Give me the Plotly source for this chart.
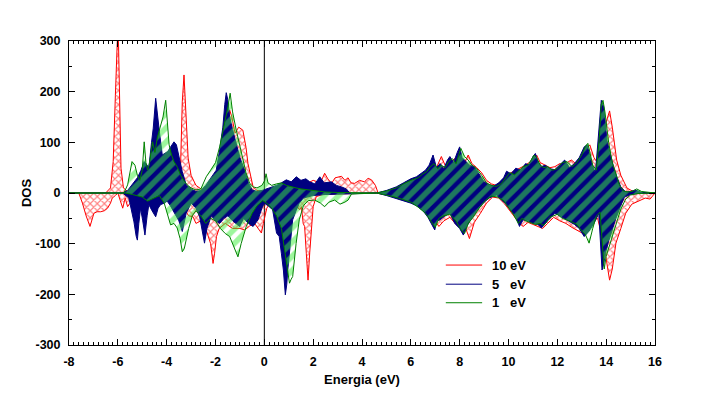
import plotly.graph_objects as go

# ---------------- data ----------------
# 10 eV (red), spin up / spin down
rx_up = [-8, -6.5, -6.3, -6.19, -6.1, -6.03, -6.0, -5.97, -5.93, -5.87,
         -5.77, -5.6, -5.0, -4.5, -4.0, -3.6, -3.5, -3.43, -3.36, -3.29,
         -3.22, -3.12, -3.0, -2.8, -2.5, -2.3, -2.1, -1.9, -1.7, -1.55,
         -1.42, -1.33, -1.2, -1.05, -0.88, -0.75, -0.67, -0.55, -0.46, -0.3,
         0.0, 0.3, 0.6, 1.0, 1.3, 1.6, 2.0, 2.3, 2.47, 2.6,
         2.75, 2.9, 3.16, 3.3, 3.43, 3.55, 3.7, 3.9, 4.1, 4.25,
         4.39, 4.55, 4.66, 5.0, 5.5, 6.0, 6.4, 6.7, 6.9, 7.05,
         7.25, 7.4, 7.6, 7.8, 8.0, 8.2, 8.35, 8.5, 8.7, 8.9,
         9.1, 9.3, 9.5, 9.7, 9.9, 10.1, 10.3, 10.5, 10.7, 10.9,
         11.05, 11.15, 11.3, 11.5, 11.7, 11.9, 12.1, 12.3, 12.45, 12.58,
         12.75, 12.95, 13.15, 13.33, 13.5, 13.7, 13.85, 14.0, 14.14, 14.25,
         14.43, 14.6, 14.85, 15.1, 15.4, 15.7, 16]
ry_up = [0, 0, 10, 62, 193, 290, 330, 290, 180, 49,
         10, 3, 5, 8, 10, 20, 30, 55, 180, 233,
         173, 69, 35, 15, 5, 10, 25, 45, 80, 120,
         164, 150, 118, 130, 124, 90, 58, 30, 12, 5,
         3, 5, 8, 10, 12, 15, 25, 20, 39, 28,
         19, 30, 33, 25, 30, 20, 19, 25, 22, 29,
         26, 15, 0, 4, 12, 22, 32, 42, 55, 50,
         72, 55, 60, 68, 70, 60, 75, 58, 50, 40,
         25, 18, 15, 22, 35, 40, 45, 50, 55, 62,
         70, 75, 60, 55, 50, 52, 58, 55, 62, 65,
         58, 72, 85, 95, 70, 55, 80, 140, 162, 130,
         65, 35, 10, 3, 1, 0, 0]
rx_dn = [-8, -7.6, -7.45, -7.3, -7.14, -6.98, -6.85, -6.7, -6.55, -6.42,
         -6.3, -6.23, -6.1, -6.0, -5.9, -5.8, -5.7, -5.6, -5.5, -5.3,
         -5.0, -4.5, -4.0, -3.5, -3.3, -3.1, -2.92, -2.8, -2.6, -2.4,
         -2.2, -2.1, -2.04, -1.96, -1.85, -1.6, -1.3, -1.0, -0.8, -0.6,
         -0.4, -0.2, -0.12, -0.04, 0.1, 0.3, 0.6, 1.0, 1.3, 1.45,
         1.52, 1.59, 1.65, 1.72, 1.79, 1.86, 1.93, 2.0, 2.13, 2.4,
         3.0, 4.0, 4.6, 5.0, 5.5, 6.0, 6.4, 6.7, 6.95, 7.15,
         7.35, 7.6, 7.85, 8.1, 8.25, 8.4, 8.6, 8.85, 9.1, 9.35,
         9.6, 9.85, 10.05, 10.25, 10.45, 10.6, 10.8, 11.0, 11.2, 11.4,
         11.6, 11.85, 12.1, 12.35, 12.6, 12.85, 13.05, 13.25, 13.45, 13.65,
         13.85, 14.0, 14.14, 14.25, 14.4, 14.6, 14.8, 15.05, 15.35, 15.6,
         15.8, 16]
ry_dn = [0, 0, -20, -45, -66, -40, -37, -37, -35, -30,
         -20, -10, -5, 0, -15, -30, -10, -27, -20, -15,
         -10, -10, -15, -20, -30, -45, -47, -60, -55, -70,
         -100, -139, -120, -86, -70, -60, -70, -70, -73, -65,
         -60, -73, -79, -60, -30, -15, -10, -15, -25, -33,
         -27, -60, -66, -120, -172, -117, -60, -27, -7, -3,
         -2, -1, 0, -4, -10, -18, -26, -38, -52, -66,
         -55, -48, -62, -72, -70, -90, -58, -40, -20, -8,
         -10, -22, -35, -48, -60, -66, -58, -62, -66, -70,
         -60, -48, -55, -60, -68, -75, -80, -70, -55, -50,
         -90, -130, -172, -150, -99, -70, -40, -22, -15, -10,
         -12, 0]

# 5 eV (navy), spin up / spin down
bx_up = [-8, -5.8, -5.6, -5.45, -5.34, -5.2, -5.05, -4.92, -4.8, -4.73,
         -4.62, -4.55, -4.45, -4.38, -4.3, -4.18, -4.05, -3.95, -3.85, -3.7,
         -3.6, -3.5, -3.36, -3.2, -3.0, -2.8, -2.6, -2.4, -2.24, -2.1,
         -1.97, -1.83, -1.7, -1.62, -1.56, -1.5, -1.42, -1.3, -1.15, -1.0,
         -0.81, -0.65, -0.5, -0.3, -0.1, 0.1, 0.3, 0.5, 0.7, 0.9,
         1.1, 1.31, 1.5, 1.7, 1.86, 2.07, 2.27, 2.45, 2.75, 2.95,
         3.16, 3.36, 3.5, 4.6, 5.0, 5.4, 5.7, 6.0, 6.23, 6.45,
         6.6, 6.75, 6.91, 7.05, 7.2, 7.35, 7.5, 7.6, 7.75, 7.9,
         8.0, 8.1, 8.25, 8.4, 8.6, 8.8, 9.0, 9.2, 9.4, 9.6,
         9.8, 9.92, 10.1, 10.3, 10.5, 10.7, 10.85, 11.0, 11.1, 11.2,
         11.35, 11.5, 11.7, 11.9, 12.1, 12.3, 12.5, 12.7, 12.9, 13.1,
         13.22, 13.4, 13.56, 13.7, 13.8, 13.9, 14.03, 14.15, 14.3, 14.45,
         14.6, 14.8, 15.0, 15.2, 15.4, 15.7, 16]
by_up = [0, 0, 5, 15, 22, 30, 45, 62, 55, 49,
         100, 128, 187, 150, 122, 75, 80, 82, 90, 101,
         95, 70, 42, 16, 8, 3, 5, 15, 26, 35,
         45, 85, 130, 175, 198, 185, 150, 125, 98, 70,
         45, 20, 6, 3, 5, 8, 12, 15, 20, 26,
         22, 32, 25, 28, 22, 18, 32, 20, 22, 15,
         12, 8, 0, 0, 5, 12, 20, 28, 32, 40,
         45, 55, 75, 50, 58, 48, 65, 72, 60, 80,
         91, 70, 62, 55, 52, 38, 22, 16, 14, 20,
         30, 43, 38, 49, 45, 58, 55, 72, 78, 62,
         52, 55, 48, 46, 55, 65, 50, 58, 70, 91,
         95, 60, 39, 120, 183, 170, 104, 80, 52, 30,
         12, 2, 3, 6, 2, 0, 0]
bx_dn = [-8, -5.8, -5.55, -5.45, -5.34, -5.25, -5.2, -5.14, -5.07, -4.98,
         -4.89, -4.8, -4.73, -4.6, -4.45, -4.35, -4.25, -4.1, -3.98, -3.85,
         -3.7, -3.5, -3.36, -3.2, -3.0, -2.8, -2.65, -2.55, -2.45, -2.35,
         -2.17, -2.0, -1.83, -1.65, -1.49, -1.3, -1.15, -1.01, -0.85, -0.65,
         -0.46, -0.26, -0.1, 0.0, 0.15, 0.34, 0.5, 0.61, 0.7, 0.78,
         0.86, 0.92, 0.96, 1.05, 1.16, 1.3, 1.43, 1.6, 2.0, 2.5,
         3.0, 3.5, 4.6, 5.0, 5.5, 6.0, 6.23, 6.5, 6.7, 6.85,
         6.98, 7.06, 7.2, 7.4, 7.6, 7.8, 8.0, 8.15, 8.3, 8.45,
         8.7, 8.96, 9.2, 9.5, 9.7, 9.86, 10.1, 10.3, 10.45, 10.6,
         10.8, 11.0, 11.2, 11.35, 11.6, 11.9, 12.1, 12.4, 12.7, 12.9,
         13.1, 13.3, 13.5, 13.7, 13.78, 13.83, 13.9, 13.97, 14.1, 14.24,
         14.4, 14.58, 14.75, 15.0, 15.3, 16]
by_dn = [0, 0, -10, -30, -57, -85, -93, -60, -30, -55,
         -83, -45, -23, -35, -47, -30, -23, -20, -16, -25,
         -37, -55, -76, -40, -20, -30, -47, -70, -99, -70,
         -45, -55, -60, -50, -45, -55, -60, -66, -50, -60,
         -66, -53, -30, -20, -25, -33, -79, -86, -120, -152,
         -201, -180, -152, -100, -53, -35, -20, -10, -5, -3,
         -2, -1, 0, -5, -12, -20, -25, -35, -48, -62,
         -73, -55, -53, -45, -40, -60, -70, -83, -65, -53,
         -35, -20, -10, -4, -12, -20, -35, -47, -66, -53,
         -55, -60, -62, -69, -55, -40, -45, -53, -62, -70,
         -86, -75, -60, -40, -100, -152, -140, -119, -95, -73,
         -50, -27, -8, -3, -1, 0]

# 1 eV (green), spin up / spin down
gx_up = [-8, -5.75, -5.6, -5.5, -5.42, -5.3, -5.2, -5.1, -5.0, -4.92,
         -4.85, -4.78, -4.7, -4.58, -4.48, -4.38, -4.25, -4.15, -4.04, -3.95,
         -3.9, -3.8, -3.7, -3.55, -3.43, -3.3, -3.16, -3.0, -2.8, -2.6,
         -2.38, -2.2, -2.0, -1.83, -1.65, -1.49, -1.40, -1.3, -1.15, -1.0,
         -0.88, -0.75, -0.6, -0.45, -0.3, -0.1, 0.02, 0.07, 0.15, 0.3,
         0.5, 0.7, 0.9, 1.1, 1.3, 1.5, 1.8, 2.1, 2.5, 3.0,
         3.5, 4.0, 4.6, 5.0, 5.4, 5.7, 6.0, 6.3, 6.5, 6.65,
         6.8, 6.95, 7.1, 7.25, 7.4, 7.55, 7.7, 7.85, 7.95, 8.05,
         8.2, 8.35, 8.5, 8.7, 8.9, 9.1, 9.3, 9.5, 9.7, 9.9,
         10.05, 10.25, 10.45, 10.6, 10.8, 10.95, 11.05, 11.15, 11.3, 11.45,
         11.6, 11.8, 12.0, 12.2, 12.4, 12.6, 12.8, 13.0, 13.15, 13.25,
         13.45, 13.6, 13.72, 13.8, 13.87, 13.95, 14.1, 14.25, 14.4, 14.55,
         14.7, 14.9, 15.1, 15.25, 15.45, 15.7, 16]
gy_up = [0, 0, 16, 45, 62, 55, 35, 25, 45, 101,
         60, 45, 60, 101, 80, 110, 130, 150, 183, 130,
         95, 75, 62, 50, 35, 25, 16, 10, 6, 8,
         32, 45, 60, 91, 130, 170, 197, 160, 124, 90,
         65, 40, 19, 12, 10, 15, 25, 38, 20, 15,
         18, 20, 15, 12, 10, 8, 6, 4, 2, 1,
         1, 0, 0, 4, 10, 18, 25, 30, 38, 42,
         52, 58, 48, 55, 50, 62, 68, 58, 75, 88,
         72, 65, 55, 48, 35, 20, 15, 13, 18, 32,
         40, 36, 46, 52, 55, 68, 75, 70, 55, 50,
         52, 45, 48, 60, 62, 52, 60, 75, 92, 98,
         55, 45, 110, 175, 183, 160, 100, 60, 35, 15,
         4, 2, 4, 8, 3, 1, 0]
gx_dn = [-8, -5.7, -5.4, -5.0, -4.78, -4.5, -4.3, -4.1, -3.95, -3.84,
         -3.7, -3.57, -3.45, -3.36, -3.28, -3.22, -3.1, -2.95, -2.8, -2.6,
         -2.4, -2.2, -2.0, -1.8, -1.6, -1.42, -1.3, -1.2, -1.08, -0.95,
         -0.74, -0.5, -0.3, -0.07, 0.1, 0.3, 0.5, 0.7, 0.85, 0.95,
         1.03, 1.1, 1.16, 1.3, 1.43, 1.6, 1.8, 2.06, 2.3, 2.47,
         2.65, 2.88, 3.1, 3.3, 3.43, 3.57, 4.6, 5.0, 5.5, 6.0,
         6.3, 6.6, 6.8, 7.0, 7.15, 7.35, 7.6, 7.85, 8.05, 8.2,
         8.35, 8.55, 8.8, 9.05, 9.3, 9.55, 9.8, 10.0, 10.2, 10.4,
         10.55, 10.7, 10.9, 11.1, 11.3, 11.45, 11.7, 12.0, 12.2, 12.5,
         12.8, 13.0, 13.15, 13.3, 13.45, 13.6, 13.75, 13.85, 13.92, 14.0,
         14.15, 14.3, 14.45, 14.6, 14.8, 15.0, 15.3, 16]
gy_dn = [0, 0, -3, -8, -16, -10, -5, -20, -45, -63,
         -60, -69, -90, -116, -110, -96, -70, -45, -35, -45,
         -60, -50, -55, -70, -80, -86, -100, -115, -126, -100,
         -66, -40, -25, -15, -20, -30, -45, -70, -120, -160,
         -178, -170, -165, -100, -53, -25, -15, -14, -20, -27,
         -18, -14, -22, -18, -14, -2, 0, -4, -10, -18,
         -28, -40, -55, -68, -50, -45, -42, -55, -72, -80,
         -60, -48, -30, -15, -6, -8, -15, -28, -42, -60,
         -50, -55, -58, -62, -60, -64, -48, -42, -50, -55,
         -62, -75, -82, -99, -70, -45, -38, -110, -150, -125,
         -100, -78, -55, -32, -12, -4, -1, 0]

x_tickvals = [-8, -6, -4, -2, 0, 2, 4, 6, 8, 10, 12, 14, 16]
x_ticktext = ["-8", "-6", "-4", "-2", "0", "2", "4", "6", "8", "10", "12", "14", "16"]
y_tickvals = [-300, -200, -100, 0, 100, 200, 300]
y_ticktext = ["-300", "-200", "-100", "0", "100", "200", "300"]
legend_labels = ["10 eV", "5\u00a0\u00a0 eV", "1\u00a0\u00a0 eV"]

# ---------------- styles ----------------
RED = "#ff0000"
NAVY = "#000080"
GREEN_LINE = "#008000"
GREEN_FILL = "#3cf03c"
FONT = "Liberation Sans, Arial, sans-serif"

fig = go.Figure()

red_pat = dict(shape="x", fgcolor=RED, bgcolor="rgba(0,0,0,0)", size=5, solidity=0.4)
green_pat = dict(shape="/", fgcolor=GREEN_FILL, bgcolor="rgba(0,0,0,0)", size=10, solidity=0.55)

for xs, ys in [(rx_up, ry_up), (rx_dn, ry_dn)]:
    fig.add_trace(go.Scatter(x=xs, y=ys, mode="lines", fill="tozeroy",
                             line=dict(color=RED, width=1), fillpattern=red_pat,
                             fillcolor="rgba(0,0,0,0)", showlegend=False, hoverinfo="skip"))
for xs, ys in [(bx_up, by_up), (bx_dn, by_dn)]:
    fig.add_trace(go.Scatter(x=xs, y=ys, mode="lines", fill="tozeroy",
                             line=dict(color=NAVY, width=1), fillcolor=NAVY,
                             showlegend=False, hoverinfo="skip"))
for xs, ys in [(gx_up, gy_up), (gx_dn, gy_dn)]:
    fig.add_trace(go.Scatter(x=xs, y=ys, mode="lines", fill="tozeroy",
                             line=dict(color=GREEN_LINE, width=1), fillpattern=green_pat,
                             fillcolor="rgba(0,0,0,0)", showlegend=False, hoverinfo="skip"))

# vertical reference line at E = 0
fig.add_shape(type="line", x0=0, x1=0, y0=0, y1=1, xref="x", yref="paper",
              line=dict(color="black", width=1), layer="below")

# legend drawn as line samples + text
leg_y = [0.263, 0.200, 0.139]
for lab, col, yy in zip(legend_labels, [RED, NAVY, GREEN_LINE], leg_y):
    fig.add_shape(type="line", xref="paper", yref="paper", x0=0.643, x1=0.705,
                  y0=yy, y1=yy, line=dict(color=col, width=1))
    fig.add_annotation(xref="paper", yref="paper", x=0.718, y=yy, text=lab,
                       showarrow=False, xanchor="left", yanchor="middle",
                       font=dict(family=FONT, size=13, color="black", weight="bold"))

axis_common = dict(showline=True, linecolor="black", linewidth=1, mirror="allticks",
                   ticks="inside", tickcolor="black", showgrid=False, zeroline=False,
                   ticklabelstandoff=5, automargin=False,
                   tickfont=dict(family=FONT, size=12.5, color="black", weight="bold"))

fig.update_xaxes(range=[-8, 16], tickvals=x_tickvals, ticktext=x_ticktext, ticklen=6,
                 minor=dict(dtick=0.2, tick0=0, ticklen=3, ticks="inside", tickcolor="black", showgrid=False),
                 title=dict(text="Energia (eV)", standoff=6,
                            font=dict(family=FONT, size=13, color="black", weight="bold")),
                 **axis_common)
fig.update_yaxes(range=[-300, 300], tickvals=y_tickvals, ticktext=y_ticktext, ticklen=6,
                 minor=dict(dtick=50, tick0=0, ticklen=3, ticks="inside", tickcolor="black", showgrid=False),
                 title=dict(text="DOS", standoff=0,
                            font=dict(family=FONT, size=13, color="black", weight="bold")),
                 **axis_common)

fig.update_layout(
    width=710, height=416,
    margin=dict(l=69, r=55, t=41, b=71),
    paper_bgcolor="white", plot_bgcolor="white",
    font=dict(family=FONT, size=12, color="black"),
    showlegend=False,
)

fig.write_html("out.html")
